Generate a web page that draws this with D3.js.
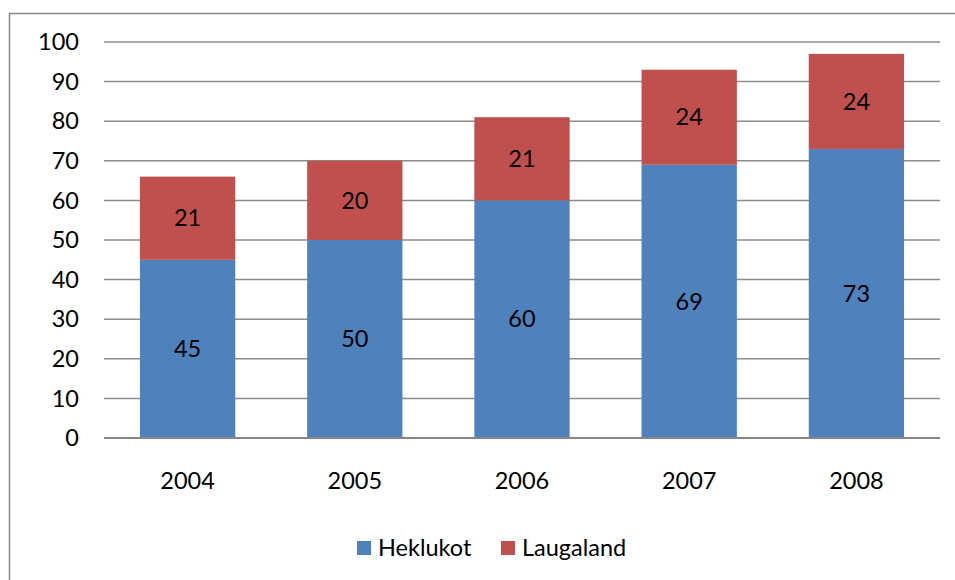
<!DOCTYPE html>
<html>
<head>
<meta charset="utf-8">
<script src="https://cdn.jsdelivr.net/npm/d3@7"></script>
<style>
  body { margin: 0; background: #fff; }
  text { font-family: Lato, "Open Sans", sans-serif; fill: #000; }
</style>
</head>
<body>
<svg id="chart" width="955" height="580"></svg>
<script>
// data
const years = ['2004', '2005', '2006', '2007', '2008'];
const heklukot = [45, 50, 60, 69, 73];
const laugaland = [21, 20, 21, 24, 24];
const seriesNames = ['Heklukot', 'Laugaland'];
const colors = ['#4F81BD', '#C0504D'];
const yTicks = [0, 10, 20, 30, 40, 50, 60, 70, 80, 90, 100];

const svg = d3.select('#chart');
const fontSize = '23.5px';

// outer chart border
svg.append('rect')
  .attr('x', 9.5).attr('y', 13.5)
  .attr('width', 960).attr('height', 600)
  .attr('fill', 'none').attr('stroke', '#868686').attr('stroke-width', 1.5);

const margin = {left: 104, right: 15, top: 42, bottom: 142};
const width = 955 - margin.left - margin.right;   // 836
const height = 580 - margin.top - margin.bottom;  // ~396

const x = d3.scaleBand().domain(years).range([margin.left, margin.left + width]).paddingInner(0.43).paddingOuter(0.215);
const y = d3.scaleLinear().domain([0, 100]).range([margin.top + height, margin.top]);

// gridlines
svg.append('g').selectAll('line')
  .data(yTicks)
  .enter().append('line')
  .attr('x1', margin.left).attr('x2', margin.left + width)
  .attr('y1', d => y(d)).attr('y2', d => y(d))
  .attr('stroke', '#8c8c8c').attr('stroke-width', 1.5);

// y axis labels
svg.append('g').selectAll('text')
  .data(yTicks)
  .enter().append('text')
  .attr('x', 79).attr('y', d => y(d))
  .attr('dy', '0.35em')
  .attr('text-anchor', 'end')
  .style('font-size', fontSize)
  .text(d => d);

// stack the two series
const rows = years.map((yr, i) => ({year: yr, Heklukot: heklukot[i], Laugaland: laugaland[i]}));
const stacked = d3.stack().keys(seriesNames)(rows);

const groups = svg.append('g').selectAll('g')
  .data(stacked)
  .enter().append('g')
  .attr('fill', (d, i) => colors[i]);

groups.selectAll('rect')
  .data(d => d)
  .enter().append('rect')
  .attr('x', d => x(d.data.year))
  .attr('width', x.bandwidth())
  .attr('y', d => y(d[1]))
  .attr('height', d => y(d[0]) - y(d[1]));

// value labels
groups.selectAll('text')
  .data(d => d)
  .enter().append('text')
  .attr('x', d => x(d.data.year) + x.bandwidth() / 2)
  .attr('y', d => y((d[0] + d[1]) / 2))
  .attr('dy', '0.35em')
  .attr('text-anchor', 'middle')
  .style('font-size', fontSize)
  .text(d => d[1] - d[0]);

// baseline
svg.append('line')
  .attr('x1', margin.left).attr('x2', margin.left + width)
  .attr('y1', y(0)).attr('y2', y(0))
  .attr('stroke', '#868686').attr('stroke-width', 2);

// x labels
svg.append('g').selectAll('text')
  .data(years)
  .enter().append('text')
  .attr('x', d => x(d) + x.bandwidth() / 2)
  .attr('y', 481)
  .attr('dy', '0.35em')
  .attr('text-anchor', 'middle')
  .style('font-size', fontSize)
  .text(d => d);

// legend
const legendX = [357, 501];
const legend = svg.append('g').selectAll('g')
  .data(seriesNames)
  .enter().append('g')
  .attr('transform', (d, i) => 'translate(' + legendX[i] + ',548)');
legend.append('rect')
  .attr('x', 0).attr('y', -7)
  .attr('width', 14).attr('height', 14)
  .attr('fill', (d, i) => colors[i]);
legend.append('text')
  .attr('x', 21).attr('y', 0)
  .attr('dy', '0.35em')
  .style('font-size', fontSize)
  .text(d => d);
</script>
</body>
</html>
